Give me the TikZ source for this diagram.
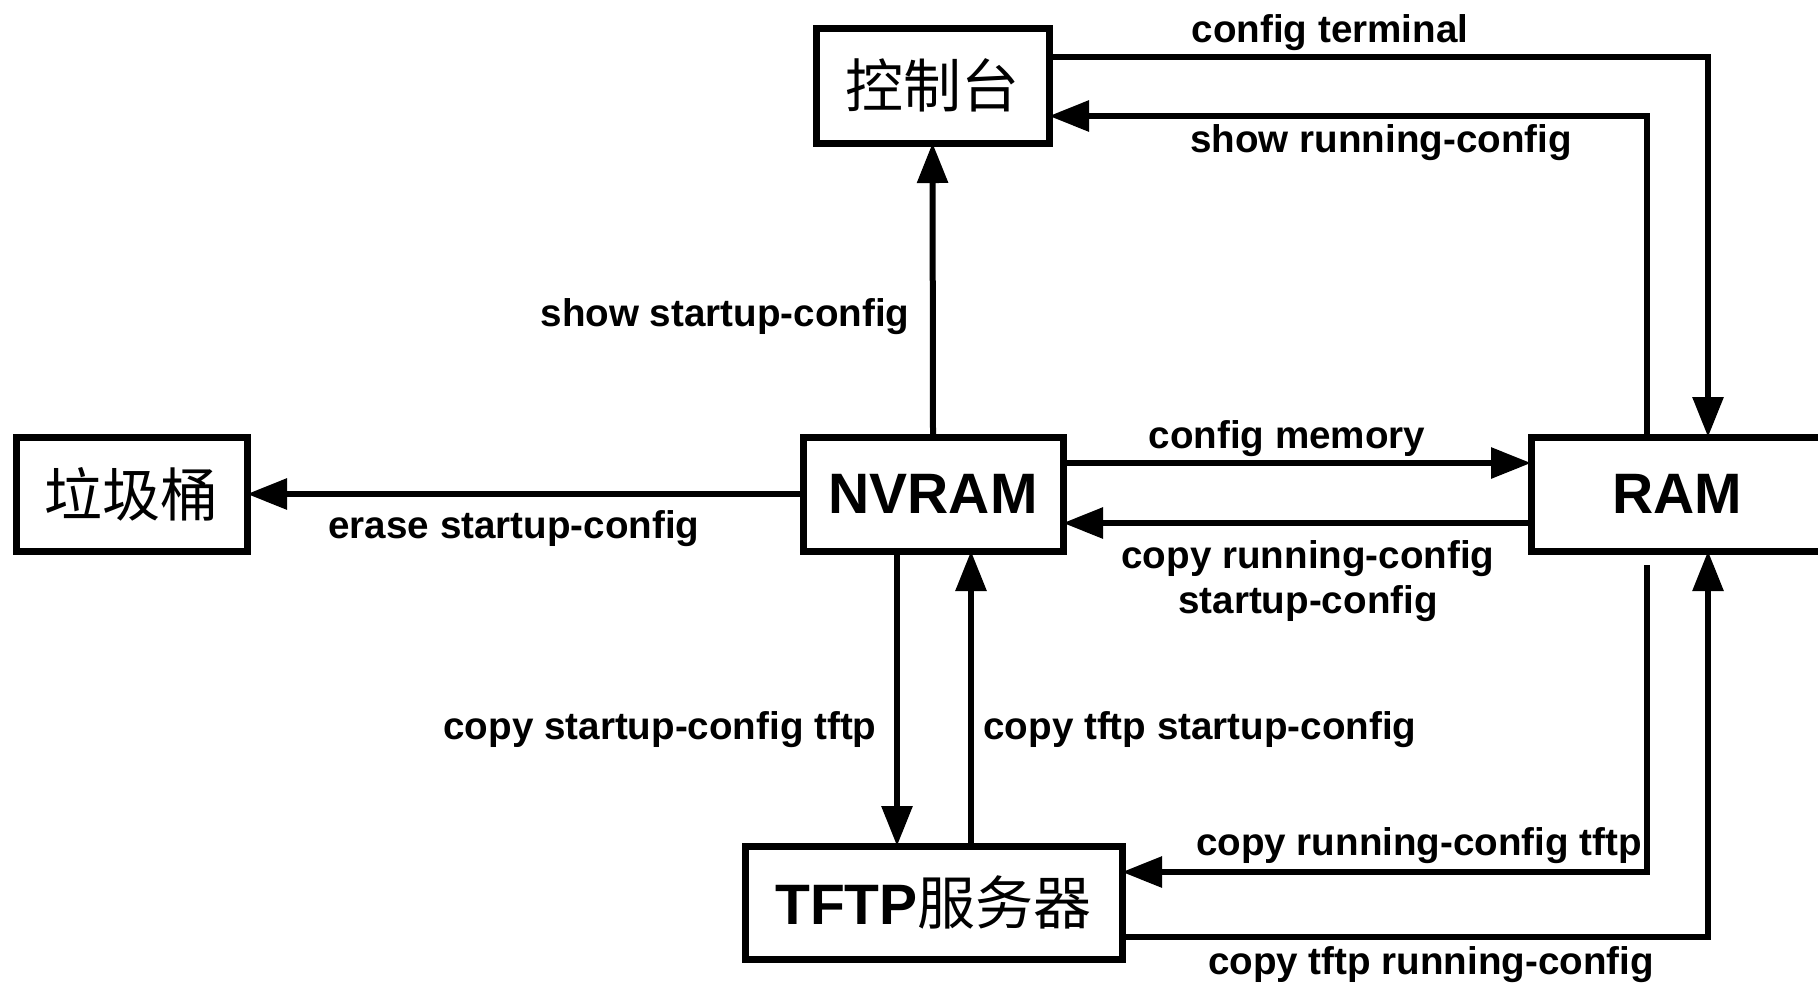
\documentclass[tikz,border=0pt]{standalone}
\usepackage{fontspec}
\setmainfont{Liberation Sans}
\newfontfamily\cjk{Noto Sans CJK SC}
\usetikzlibrary{arrows.meta}
\begin{document}
\begin{tikzpicture}[x=0.5pt,y=-0.5pt,
  box/.style={draw, line width=3.5pt, inner sep=0pt, outer sep=0pt},
  conn/.style={line width=3pt, -{Triangle[length=20pt,width=15pt]}},
  lbl/.style={font=\fontsize{19.3}{22.5}\selectfont\bfseries, inner sep=0pt},
  cjkt/.style={font=\cjk\fontsize{29}{30}\selectfont},
  ent/.style={font=\fontsize{28.5}{30}\selectfont\bfseries}]
\useasboundingbox (0,0) rectangle (1818,982);
\fill[white] (0,0) rectangle (1818,982);

% boxes
\node[box, cjkt, minimum width=116.5pt, minimum height=57.5pt] (con) at (932.5,85.5) {控制台};
\node[box, cjkt, minimum width=115.5pt, minimum height=57pt] (trash) at (131.5,494) {垃圾桶};
\node[box, ent, minimum width=130pt, minimum height=57pt] (nvram) at (933,494) {NVRAM};
\node[box, ent, minimum width=146pt, minimum height=57pt] (ram) at (1677,494) {RAM};
\node[box, minimum width=188.5pt, minimum height=56.5pt] (tftp) at (933.5,902.5)
  {\fontsize{28.5}{30}\selectfont\bfseries TFTP{\cjk\mdseries\fontsize{29}{30}\selectfont 服务器}};

% connectors
\coordinate (ctR) at (1708,57);
\draw[conn] (con.east |- ctR) -- (ctR) -- (ctR |- ram.north);
\coordinate (srR) at (1647,116);
\draw[conn] (srR |- ram.north) -- (srR) -- (srR -| con.east);
\draw[conn] (nvram.north) -- (con.south);
\coordinate (cm) at (1300,463);
\draw[conn] (cm -| nvram.east) -- (cm -| ram.west);
\coordinate (crs) at (1300,523);
\draw[conn] (crs -| ram.west) -- (crs -| nvram.east);
\draw[conn] (nvram.west) -- (trash.east);
\coordinate (cst) at (897,700);
\draw[conn] (cst |- nvram.south) -- (cst |- tftp.north);
\coordinate (cts) at (971,700);
\draw[conn] (cts |- tftp.north) -- (cts |- nvram.south);
\coordinate (crtTop) at (1647,565);
\coordinate (crt) at (1647,872);
\draw[conn] (crtTop) -- (crt) -- (crt -| tftp.east);
\coordinate (ctr) at (1708,937);
\draw[conn] (ctr -| tftp.east) -- (ctr) -- (ctr |- ram.south);

% labels
\node[lbl] (l1) at (1330,33) {config terminal};
\node[lbl] (l2) at (1381,143) {show running-config};
\node[lbl] (l3) at (725,317) {show startup-config};
\node[lbl] (l4) at (1287,439) {config memory};
\node[lbl, align=center] (l5) at (1308,581) {copy running-config\\startup-config};
\node[lbl] (l6) at (514,529) {erase startup-config};
\node[lbl] (l7) at (660,730) {copy startup-config tftp};
\node[lbl] (l8) at (1200,730) {copy tftp startup-config};
\node[lbl] (l9) at (1419,846) {copy running-config tftp};
\node[lbl] (l10) at (1431,965) {copy tftp running-config};
\end{tikzpicture}
\end{document}
